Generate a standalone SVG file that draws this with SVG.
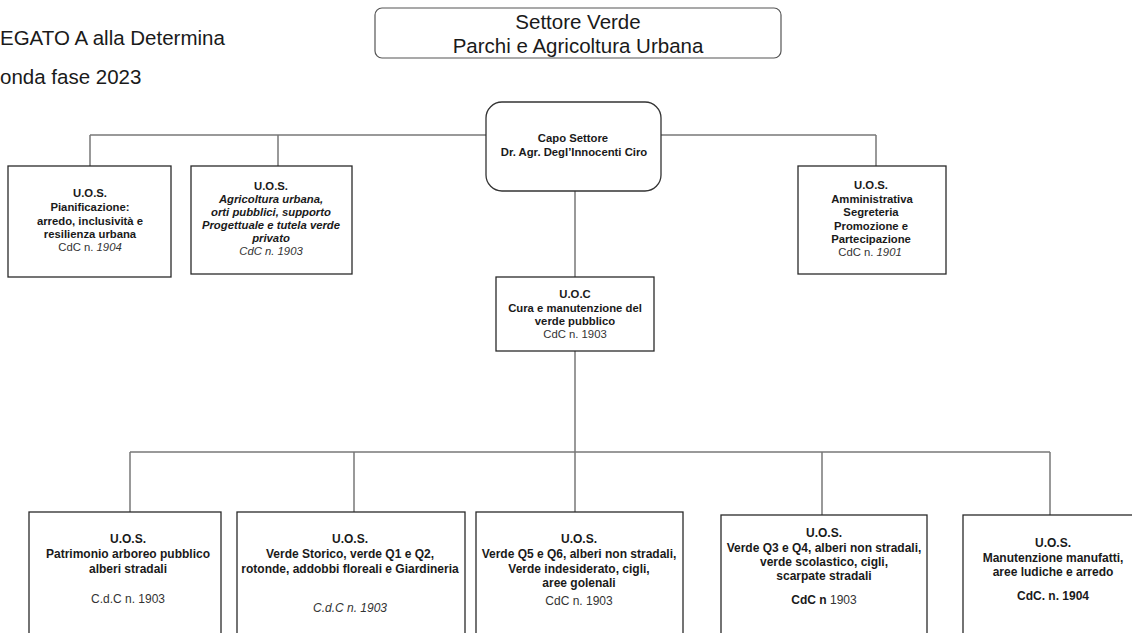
<svg xmlns="http://www.w3.org/2000/svg" width="1132" height="633" viewBox="0 0 1132 633">
<style>
text{font-family:"Liberation Sans",Arial,sans-serif;fill:#1a1a1a}
.hdr{font-size:20.5px}
.ttl{font-size:20.5px;text-anchor:middle}
.s{font-size:11.3px;text-anchor:middle;font-weight:bold}
.b{font-size:12px;text-anchor:middle;font-weight:bold}
.r{font-weight:normal;fill:#333}
.i{font-style:italic}
.box{fill:#fff;stroke:#2a2a2a;stroke-width:1.3}
.conn line{stroke:#777;stroke-width:1.5}
</style>
<rect width="1132" height="633" fill="#fff"/>
<g id="header">
<text class="hdr" x="0" y="45">EGATO A alla Determina</text>
<text class="hdr" x="0" y="84">onda fase 2023</text>
</g>
<g id="title">
<rect x="375" y="8" width="406" height="50" rx="7" fill="#fff" stroke="#555" stroke-width="1.2"/>
<text class="ttl" x="578" y="29">Settore Verde</text>
<text class="ttl" x="578" y="53">Parchi e Agricoltura Urbana</text>
</g>
<g class="conn" id="connectors">
<line x1="90" y1="135" x2="876" y2="135"/>
<line x1="90" y1="135" x2="90" y2="166"/>
<line x1="278" y1="135" x2="278" y2="166"/>
<line x1="876" y1="135" x2="876" y2="166"/>
<line x1="575" y1="191" x2="575" y2="277"/>
<line x1="575" y1="351" x2="575" y2="452"/>
<line x1="130" y1="452" x2="1050" y2="452"/>
<line x1="130" y1="452" x2="130" y2="512"/>
<line x1="354" y1="452" x2="354" y2="512"/>
<line x1="575" y1="452" x2="575" y2="512"/>
<line x1="822" y1="452" x2="822" y2="515"/>
<line x1="1050" y1="452" x2="1050" y2="515"/>
</g>
<g id="capo">
<rect x="486" y="102" width="175" height="89" rx="16" fill="#fff" stroke="#333" stroke-width="1.3"/>
<text class="s" x="573" y="142">Capo Settore</text>
<text class="s" x="574" y="156">Dr. Agr. Degl’Innocenti Ciro</text>
</g>
<g id="uos-pianificazione">
<rect class="box" x="8" y="166" width="163" height="111"/>
<text class="s" x="90" y="197">U.O.S.</text>
<text class="s" x="90" y="211">Pianificazione:</text>
<text class="s" x="90" y="225">arredo, inclusività e</text>
<text class="s" x="90" y="238">resilienza urbana</text>
<text class="s r" x="90" y="251">CdC n. <tspan class="i">1904</tspan></text>
</g>
<g id="uos-agricoltura">
<rect class="box" x="191" y="166" width="161" height="108"/>
<text class="s" x="271" y="190">U.O.S.</text>
<text class="s i" x="271" y="203">Agricoltura urbana,</text>
<text class="s i" x="271" y="216">orti pubblici, supporto</text>
<text class="s i" x="271" y="229">Progettuale e tutela verde</text>
<text class="s i" x="271" y="242">privato</text>
<text class="s r i" x="271" y="255">CdC n. 1903</text>
</g>
<g id="uos-amministrativa">
<rect class="box" x="798" y="166" width="148" height="108"/>
<text class="s" x="871" y="189">U.O.S.</text>
<text class="s" x="872" y="203">Amministrativa</text>
<text class="s" x="871" y="216">Segreteria</text>
<text class="s" x="871" y="230">Promozione e</text>
<text class="s" x="871" y="243">Partecipazione</text>
<text class="s r" x="870" y="256">CdC n. <tspan class="i">1901</tspan></text>
</g>
<g id="uoc">
<rect class="box" x="496" y="277" width="158" height="74"/>
<text class="s" x="575" y="298">U.O.C</text>
<text class="s" x="575" y="312">Cura e manutenzione del</text>
<text class="s" x="575" y="325">verde pubblico</text>
<text class="s r" x="575" y="338">CdC n. 1903</text>
</g>
<g id="uos-patrimonio">
<rect class="box" x="29" y="512" width="192" height="140"/>
<text class="b" x="128" y="543">U.O.S.</text>
<text class="b" x="128" y="558">Patrimonio arboreo pubblico</text>
<text class="b" x="128" y="573">alberi stradali</text>
<text class="b r" x="128" y="603">C.d.C n. 1903</text>
</g>
<g id="uos-verde-storico">
<rect class="box" x="237" y="512" width="228" height="140"/>
<text class="b" x="350" y="543">U.O.S.</text>
<text class="b" x="350" y="558">Verde Storico, verde Q1 e Q2,</text>
<text class="b" x="350" y="573">rotonde, addobbi floreali e Giardineria</text>
<text class="b r i" x="350" y="612">C.d.C n. 1903</text>
</g>
<g id="uos-q5-q6">
<rect class="box" x="476" y="512" width="207" height="140"/>
<text class="b" x="579" y="543">U.O.S.</text>
<text class="b" x="579" y="558">Verde Q5 e Q6, alberi non stradali,</text>
<text class="b" x="579" y="573">Verde indesiderato, cigli,</text>
<text class="b" x="579" y="587">aree golenali</text>
<text class="b r" x="579" y="605">CdC n. 1903</text>
</g>
<g id="uos-q3-q4">
<rect class="box" x="721" y="515" width="206" height="140"/>
<text class="b" x="824" y="537">U.O.S.</text>
<text class="b" x="824" y="552">Verde Q3 e Q4, alberi non stradali,</text>
<text class="b" x="824" y="566">verde scolastico, cigli,</text>
<text class="b" x="824" y="580">scarpate stradali</text>
<text class="b" x="824" y="604">CdC n <tspan class="r">1903</tspan></text>
</g>
<g id="uos-manutenzione">
<rect class="box" x="963" y="515" width="185" height="140"/>
<text class="b" x="1053" y="547">U.O.S.</text>
<text class="b" x="1053" y="562">Manutenzione manufatti,</text>
<text class="b" x="1053" y="576">aree ludiche e arredo</text>
<text class="b" x="1053" y="600">CdC. n. 1904</text>
</g>
</svg>
